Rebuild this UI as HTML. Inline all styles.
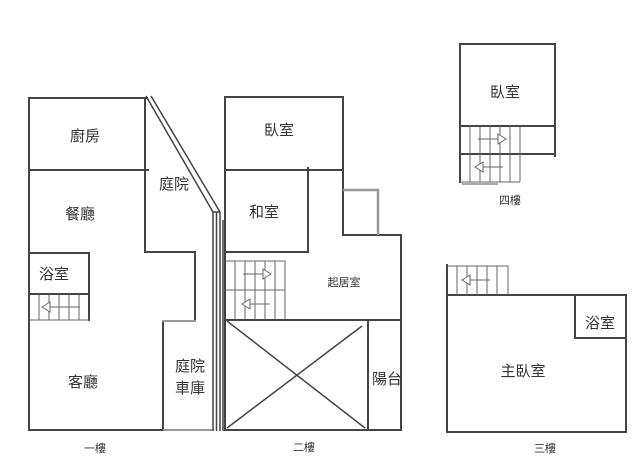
<!DOCTYPE html>
<html><head><meta charset="utf-8"><style>
html,body{margin:0;padding:0;background:#fff;}
svg{display:block}
text{font-family:"Liberation Sans","Noto Sans CJK TC",sans-serif;fill:#333;}
</style></head><body>
<svg width="640" height="473" viewBox="0 0 640 473" xmlns="http://www.w3.org/2000/svg">
<g stroke="#444" stroke-width="2" fill="none" stroke-linecap="square">
<!-- Floor 1 -->
<path d="M29 98 H147 M29 98 V430 H163"/>
<path d="M29 170 H148"/>
<path d="M145 98 V252 H195 V320"/>
<path d="M163 322 V430"/>
<path d="M29 253 H89 V320"/>
<path d="M29 294 H89"/>
</g>
<g stroke="#999" stroke-width="2" fill="none">
<path d="M162 321 H196 M163 430 H214"/>
</g>
<g stroke="#666" stroke-width="1" fill="none">
<path d="M29 320 H89 M39 294 V320 M49 294 V320 M59 294 V320 M69 294 V320 M79 294 V320"/>
<path d="M50 307 H80"/><path d="M50 302 L42 307 L50 312 Z" fill="#fff"/>
</g>
<!-- double walls -->
<g stroke="#444" stroke-width="1.5" fill="none">
<path d="M146 96 L213 212 M151 96 L220 212"/>
<path d="M213 212 V431 M216.5 212 V431 M220 212 V431 M213 212 H220"/>
<path d="M223 220 V431"/>
</g>
<!-- Floor 2 -->
<g stroke="#444" stroke-width="2" fill="none" stroke-linecap="square">
<path d="M225 97 H343 V235 H401 V430 H225 Z"/>
<path d="M225 170 H343"/>
<path d="M308 168 V252 H225"/>
<path d="M225 320 H401"/>
<path d="M368 320 V430"/>
</g>
<g stroke="#999" stroke-width="2.5" fill="none"><path d="M343 190 H378 V235"/></g>
<g stroke="#444" stroke-width="1.5"><path d="M227 321 L365 428 M362 326 L227 428"/></g>
<g stroke="#666" stroke-width="1" fill="none">
<path d="M225 261 H285 V319 M225 290 H285"/>
<path d="M235 261 V319 M245 261 V319 M255 261 V319 M265 261 V319 M275 261 V319"/>
<path d="M243 274 H263"/><path d="M263 269 L271 274 L263 279 Z" fill="#fff"/>
<path d="M250 304 H270"/><path d="M250 299 L242 304 L250 309 Z" fill="#fff"/>
</g>
<!-- Floor 4 -->
<g stroke="#444" stroke-width="2" fill="none" stroke-linecap="square">
<path d="M460 182 V44 H555 V156"/>
<path d="M460 126 H555 M460 154 H555"/>
</g>
<g stroke="#aaa" stroke-width="2"><path d="M462 184 H498"/></g>
<g stroke="#666" stroke-width="1" fill="none">
<path d="M520 126 V182 M460 182 H520"/>
<path d="M470 126 V182 M480 126 V182 M490 126 V182 M500 126 V182 M510 126 V182"/>
<path d="M478 139 H498"/><path d="M498 134 L506 139 L498 144 Z" fill="#fff"/>
<path d="M483 167 H503"/><path d="M483 162 L475 167 L483 172 Z" fill="#fff"/>
</g>
<!-- Floor 3 -->
<g stroke="#444" stroke-width="2" fill="none" stroke-linecap="square">
<path d="M447 265 V432 H626 V295 H447"/>
<path d="M575 295 V338 H626"/>
</g>
<g stroke="#666" stroke-width="1" fill="none">
<path d="M447 266 H508 V295"/>
<path d="M457 266 V295 M467 266 V295 M477 266 V295 M487 266 V295 M497 266 V295"/>
<path d="M470 280 H490"/><path d="M470 275 L462 280 L470 285 Z" fill="#fff"/>
</g>
<!-- labels -->
<g font-size="15" text-anchor="middle">
<text x="85" y="141">廚房</text>
<text x="80" y="219">餐廳</text>
<text x="54" y="279">浴室</text>
<text x="83" y="387">客廳</text>
<text x="174" y="189">庭院</text>
<text x="190" y="371">庭院</text>
<text x="190" y="393">車庫</text>
<text x="279" y="135">臥室</text>
<text x="264" y="217">和室</text>
<text x="387" y="384">陽台</text>
<text x="505" y="97">臥室</text>
<text x="523" y="376">主臥室</text>
<text x="600" y="328">浴室</text>
</g>
<g font-size="11" text-anchor="middle">
<text x="344" y="286">起居室</text>
<text x="510" y="204">四樓</text>
<text x="95" y="452">一樓</text>
<text x="304" y="451">二樓</text>
<text x="545" y="452">三樓</text>
</g>
</svg>
</body></html>
